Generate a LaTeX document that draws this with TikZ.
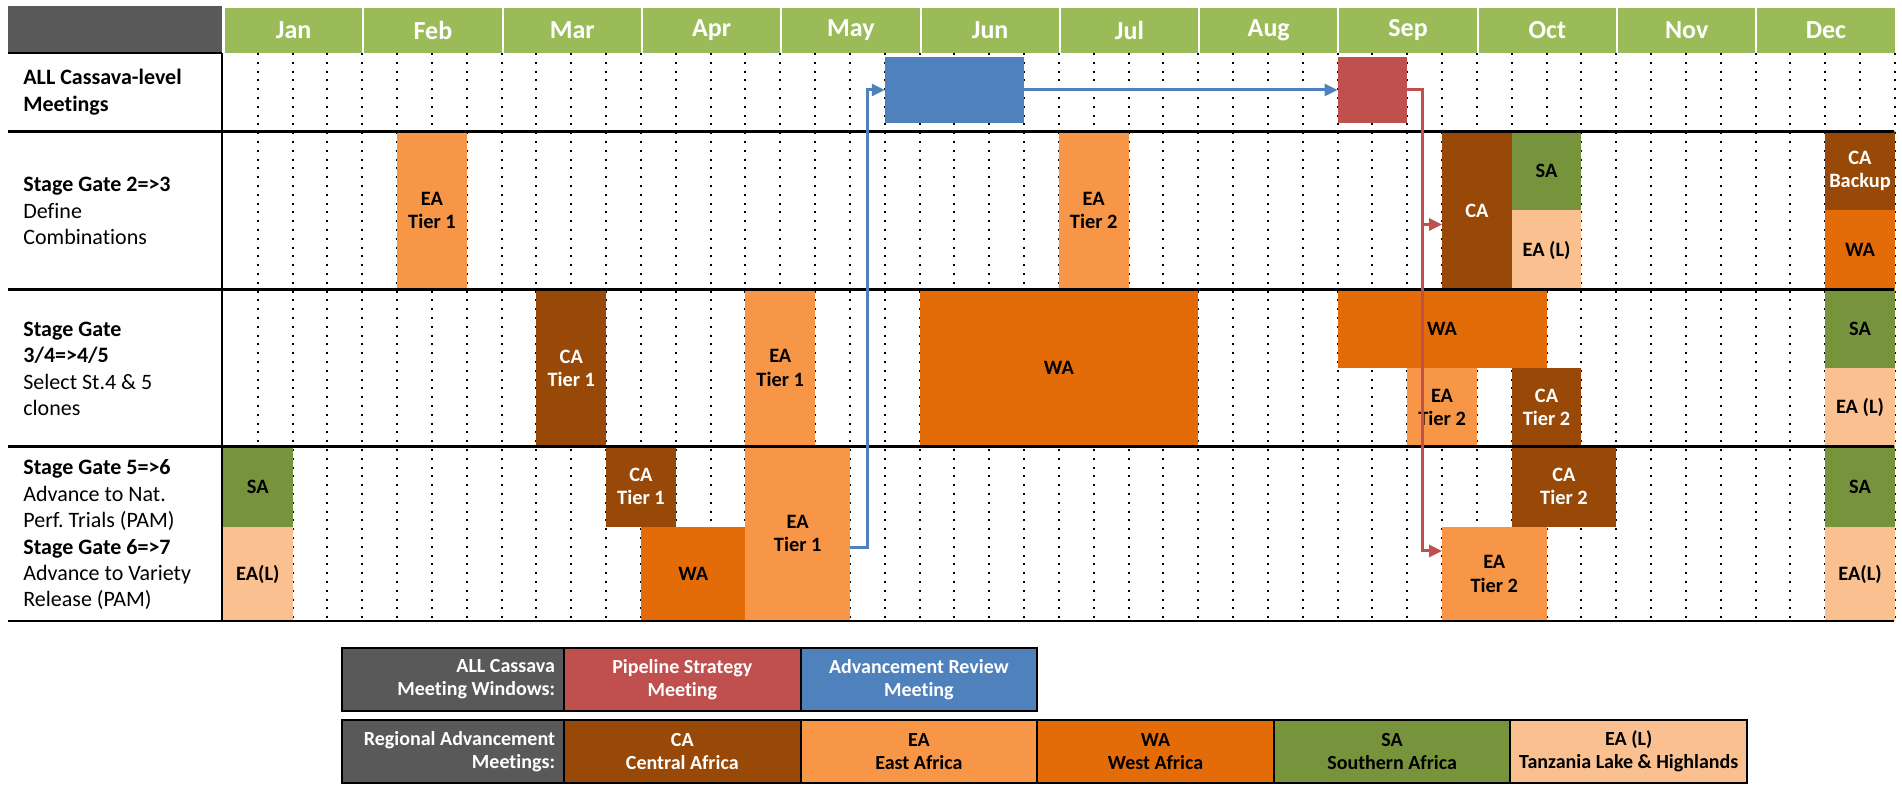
\documentclass[tikz,border=0pt]{standalone}
\usepackage{fontspec}
\setmainfont{Carlito}[Ligatures=NoCommon]
\frenchspacing
\usetikzlibrary{arrows.meta}
\definecolor{hdrgray}{HTML}{595959}
\definecolor{hdrgreen}{HTML}{9BBB59}
\definecolor{meetblue}{HTML}{4F81BD}
\definecolor{meetred}{HTML}{C0504D}
\definecolor{cacol}{HTML}{984807}
\definecolor{eacol}{HTML}{F79646}
\definecolor{wacol}{HTML}{E36C09}
\definecolor{sacol}{HTML}{77933C}
\definecolor{ealcol}{HTML}{FAC090}
% name, w1, y1, w2, y2, fill, text colour, text
\newcommand\gblock[8]{\node[blockbox,fill=#6,text=#7,minimum width={(#4-#2)*17.415pt},minimum height={(#5-#3)*0.5pt},anchor=north west] (#1) at (#2,#3) {#8};}
\begin{document}
\begin{tikzpicture}[x=0.5pt,y=-0.5pt,
  rowline/.style={line width=1.25pt,black},
  dotline/.style={line width=1pt,dash pattern=on 1pt off 3.4pt},
  blockbox/.style={inner sep=0pt,outer sep=0pt,align=center,font=\fontsize{10.2}{11.6}\selectfont\bfseries},
  monthbox/.style={fill=hdrgreen,draw=white,line width=1pt,inner sep=0pt,minimum height=23.5pt,minimum width=69.65pt,anchor=north west,text=white,font=\fontsize{13}{15}\selectfont\bfseries},
  rowlabel/.style={anchor=west,align=left,inner sep=0pt,font=\fontsize{11}{13.2}\selectfont},
  legcell/.style={draw=black,line width=1pt,inner sep=0pt,minimum width=118.3pt,minimum height=31.5pt,anchor=north west,align=center,font=\fontsize{10}{11.6}\selectfont\bfseries},
  leghead/.style={legcell,fill=hdrgray,text=white,minimum width=111pt,align=flush right,text width=102pt},
  arr/.style={line width=1.5pt,-{Triangle[length=6.5pt,width=6pt]}},
]
\useasboundingbox (0,0) rectangle (1902,790);
% header
\node[fill=hdrgray,inner sep=0pt,minimum width=107pt,minimum height=23.5pt,anchor=north west] (corner) at (8,6) {};
\foreach \m [count=\i from 0] in {Jan,Feb,Mar,Apr,May,Jun,Jul,Aug,Sep,Oct,Nov,Dec}
  \node[monthbox] (m\i) at ({223+139.3*\i},6) {\m};
% chart
\begin{scope}[x=17.415pt,xshift=111.5pt]
\foreach \w in {1,...,48} \draw[dotline] (\w,53) -- (\w,621);
% row 1
\gblock{advrev}{19}{56.7}{23}{123.3}{meetblue}{white}{}
\gblock{pipe}{32}{56.7}{34}{123.3}{meetred}{white}{}
% row 2
\gblock{eaA}{5}{131.5}{7}{289.5}{eacol}{black}{EA\\Tier 1}
\gblock{eaB}{24}{131.5}{26}{289.5}{eacol}{black}{EA\\Tier 2}
\gblock{caA}{35}{131.5}{37}{289.5}{cacol}{white}{CA}
\gblock{saA}{37}{131.5}{39}{210.5}{sacol}{black}{SA}
\gblock{ealA}{37}{210.5}{39}{289.5}{ealcol}{black}{EA (L)}
\gblock{cabk}{46}{131.5}{48}{210.5}{cacol}{white}{CA\\Backup}
\gblock{waA}{46}{210.5}{48}{289.5}{wacol}{black}{WA}
% row 3
\gblock{caB}{9}{289.5}{11}{446.5}{cacol}{white}{CA\\Tier 1}
\gblock{eaC}{15}{289.5}{17}{446.5}{eacol}{black}{EA\\Tier 1}
\gblock{waB}{20}{289.5}{28}{446.5}{wacol}{black}{WA}
\gblock{waC}{32}{289.5}{38}{368.5}{wacol}{black}{WA}
\gblock{eaD}{34}{368.5}{36}{446.5}{eacol}{black}{EA\\Tier 2}
\gblock{caC}{37}{368.5}{39}{446.5}{cacol}{white}{CA\\Tier 2}
\gblock{saB}{46}{289.5}{48}{368.5}{sacol}{black}{SA}
\gblock{ealB}{46}{368.5}{48}{446.5}{ealcol}{black}{EA (L)}
% row 4
\gblock{saC}{0}{446.5}{2}{527}{sacol}{black}{SA}
\gblock{ealC}{0}{527}{2}{621}{ealcol}{black}{EA(L)}
\gblock{caD}{11}{446.5}{13}{527}{cacol}{white}{CA\\Tier 1}
\gblock{waD}{12}{527}{15}{621}{wacol}{black}{WA}
\gblock{eaE}{15}{446.5}{18}{621}{eacol}{black}{EA\\Tier 1}
\gblock{caE}{37}{446.5}{40}{527}{cacol}{white}{CA\\Tier 2}
\gblock{eaF}{35}{527}{38}{621}{eacol}{black}{EA\\Tier 2}
\gblock{saD}{46}{446.5}{48}{527}{sacol}{black}{SA}
\gblock{ealD}{46}{527}{48}{621}{ealcol}{black}{EA(L)}
\end{scope}
% grid lines
\draw[rowline] (8,53) -- (222,53);
\draw[rowline] (222,53) -- (222,621);
\foreach \yy in {131.5,289.5,446.5,621} \draw[rowline] (8,\yy) -- (1894,\yy);
% connectors
\draw[arr,meetblue] ([yshift=-6.75pt]eaE.east) -| ([xshift=-8.7pt]advrev.west) -- (advrev.west);
\draw[arr,meetblue] (advrev.east) -- (pipe.west);
\draw[arr,meetred] (pipe.east) -| ([xshift=-9.7pt,yshift=11.5pt]eaF.west) -- ([yshift=11.5pt]eaF.west);
\draw[arr,meetred] ([xshift=-9.7pt,yshift=-7pt]caA.west) -- ([yshift=-7pt]caA.west);
% row labels
\node[rowlabel] (lab1) at (23,92) {\textbf{ALL Cassava-level}\\\textbf{Meetings}};
\node[rowlabel] (lab2) at (23,211) {\textbf{Stage Gate 2=>3}\\Define\\Combinations};
\node[rowlabel] (lab3) at (23,369) {\textbf{Stage Gate}\\\textbf{3/4=>4/5}\\Select St.4 \& 5\\clones};
\node[rowlabel] (lab4) at (23,535) {\textbf{Stage Gate 5=>6}\\Advance to Nat.\\Perf. Trials (PAM)\\\textbf{Stage Gate 6=>7}\\Advance to Variety\\Release (PAM)};
% legend
\node[leghead] (lg1) at (341,647) {ALL Cassava\\Meeting Windows:};
\node[legcell,fill=meetred,text=white] (lgpipe) at (563,647) {Pipeline Strategy\\Meeting};
\node[legcell,fill=meetblue,text=white] (lgadv) at (799.6,647) {Advancement Review\\Meeting};
\node[leghead] (lg2) at (341,719) {Regional Advancement\\Meetings:};
\node[legcell,fill=cacol,text=white] (lgca) at (563,719) {CA\\Central Africa};
\node[legcell,fill=eacol,text=black] (lgea) at (799.6,719) {EA\\East Africa};
\node[legcell,fill=wacol,text=black] (lgwa) at (1036.2,719) {WA\\West Africa};
\node[legcell,fill=sacol,text=black] (lgsa) at (1272.8,719) {SA\\Southern Africa};
\node[legcell,fill=ealcol,text=black] (lgeal) at (1509.4,719) {EA (L)\\Tanzania Lake \& Highlands};
\end{tikzpicture}
\end{document}
